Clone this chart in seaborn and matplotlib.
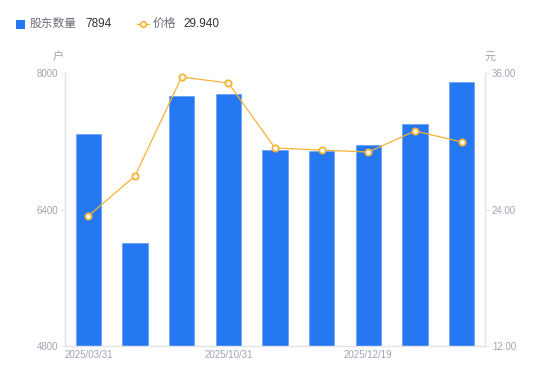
import matplotlib
matplotlib.use("Agg")
import matplotlib.pyplot as plt
import seaborn as sns
import pandas as pd
from matplotlib.lines import Line2D
from matplotlib.patches import Rectangle

categories = ["2025/03/31", "c2", "c3", "2025/10/31", "c5", "c6", "2025/12/19", "c8", "c9"]
tick_labels = ["2025/03/31", "", "", "2025/10/31", "", "", "2025/12/19", "", ""]
holders = [7285, 6010, 7730, 7754, 7097, 7086, 7156, 7402, 7894]
price = [23.43, 26.95, 35.65, 35.12, 29.41, 29.23, 29.05, 30.90, 29.94]
price_ticks = ["12.00", "24.00", "36.00"]

sns.set_theme(style="white")
plt.rcParams['font.family'] = ['Liberation Sans', 'Noto Sans CJK SC', 'DejaVu Sans']

blue = "#2577F2"
orange = "#F5B335"
grey = "#A0A4B0"
spine_c = "#E3E4E8"

fig = plt.figure(figsize=(5.5, 3.81), dpi=100)
ax = fig.add_axes([65/550, 1-346/381, 420/550, 273/381])
df = pd.DataFrame({"cat": categories, "holders": holders, "price": price})
sns.barplot(data=df, x="cat", y="holders", color=blue, width=0.54, ax=ax,
            saturation=1, edgecolor="#6FA3F5", linewidth=0.6)
ax.set_ylim(4800, 8000)
ax.set_yticks([4800, 6400, 8000])
ax.set_xlim(-0.5, 8.5)
ax.set_xticks(range(9))
ax.set_xticklabels(tick_labels)
ax.set_xlabel("")
ax.set_ylabel("")
ax.tick_params(axis="x", length=0, labelsize=7, colors=grey, pad=3)
ax.tick_params(axis="y", length=3, width=0.8, labelsize=7, colors=grey, pad=2, left=True, color=spine_c)
for s in ["top", "right"]:
    ax.spines[s].set_visible(False)
for s in ["left", "bottom"]:
    ax.spines[s].set_color(spine_c)
    ax.spines[s].set_linewidth(1)

ax2 = ax.twinx()
sns.lineplot(x=list(range(9)), y=price, ax=ax2, color=orange, linewidth=0.9,
             marker="o", markersize=4.5, markerfacecolor="white",
             markeredgecolor=orange, markeredgewidth=1.3)
ax2.set_ylim(12, 36)
ax2.set_yticks([12, 24, 36])
ax2.set_yticklabels(price_ticks)
ax2.tick_params(axis="y", length=3, width=0.8, labelsize=7, colors=grey, pad=2, right=True, color=spine_c)
for s in ["top", "left", "bottom"]:
    ax2.spines[s].set_visible(False)
ax2.spines["right"].set_color(spine_c)
ax2.spines["right"].set_linewidth(1)

fig.text(58/550, 1-57/381, "户", fontsize=8, color=grey, ha="center", va="center")
fig.text(490/550, 1-57/381, "元", fontsize=8, color=grey, ha="center", va="center")

# legend
fig.patches.append(Rectangle((16/550, 1-29/381), 9/550, 9/381, transform=fig.transFigure,
                             facecolor=blue, edgecolor="none"))
fig.text(30/550, 1-24/381, "股东数量", fontsize=8.5, color="#6B6E78", va="center", ha="left")
fig.text(85/550, 1-24/381, "7894", fontsize=8.5, color="#333333", va="center", ha="left")
fig.lines.append(Line2D([137/550, 149/550], [1-24/381, 1-24/381], transform=fig.transFigure,
                        color=orange, linewidth=1))
fig.lines.append(Line2D([143/550], [1-24/381], transform=fig.transFigure, color=orange,
                        marker="o", markersize=4, markerfacecolor="white",
                        markeredgecolor=orange, markeredgewidth=1.2, linestyle="none"))
fig.text(153/550, 1-24/381, "价格", fontsize=8.5, color="#6B6E78", va="center", ha="left")
fig.text(183/550, 1-24/381, "29.940", fontsize=8.5, color="#333333", va="center", ha="left")

fig.savefig("out.png", dpi=100)
